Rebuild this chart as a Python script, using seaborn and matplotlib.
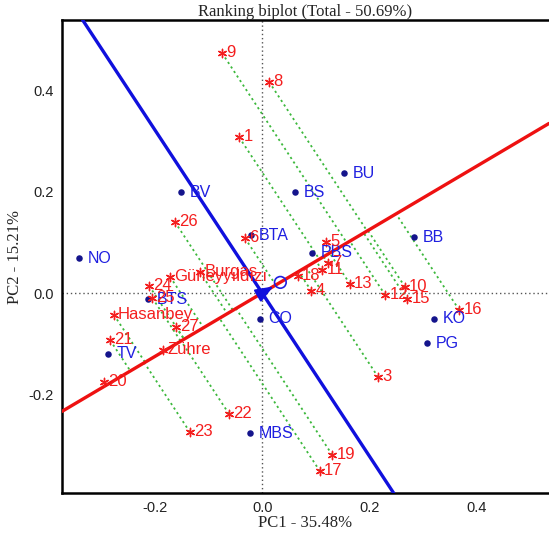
import numpy as np
import pandas as pd
import matplotlib
matplotlib.use("Agg")
import matplotlib.pyplot as plt
import seaborn as sns

# ---- data ----
env_names = ["BU", "BS", "BV", "BTA", "BB", "PBS", "NO", "BTS", "CO", "KO", "PG", "TV", "MBS"]
env_x = [0.153, 0.062, -0.151, -0.021, 0.284, 0.093, -0.342, -0.213, -0.004, 0.321, 0.308, -0.288, -0.022]
env_y = [0.236, 0.199, 0.199, 0.114, 0.110, 0.079, 0.069, -0.012, -0.051, -0.051, -0.099, -0.120, -0.276]

gen_names = ["9", "8", "1", "26", "6", "5", "7", "11", "18", "Güneyyıldızı", "Burgas", "24", "25",
             "Hasanbey", "27", "21", "Zühre", "20", "22", "23", "4", "13", "12", "10", "15", "16",
             "3", "19", "17"]
gen_x = [-0.075, 0.013, -0.043, -0.163, -0.032, 0.120, 0.123, 0.112, 0.067, -0.172, -0.116, -0.211, -0.205,
         -0.277, -0.161, -0.284, -0.185, -0.295, -0.062, -0.135, 0.092, 0.164, 0.230, 0.267, 0.271, 0.368,
         0.217, 0.131, 0.108]
gen_y = [0.473, 0.416, 0.307, 0.140, 0.108, 0.100, 0.059, 0.045, 0.033, 0.032, 0.041, 0.014, -0.010,
         -0.043, -0.067, -0.093, -0.112, -0.175, -0.238, -0.274, 0.004, 0.018, -0.004, 0.012, -0.012, -0.033,
         -0.166, -0.319, -0.351]

aea_slope = 0.6235
avg_env = (0.034, 0.021)

title = "Ranking biplot (Total - 50.69%)"
xlabel = "PC1 - 35.48%"
ylabel = "PC2 - 15.21%"
xticks = [-0.2, 0.0, 0.2, 0.4]
yticks = [-0.2, 0.0, 0.2, 0.4]

# ---- style ----
sns.set_theme(style="white")
plt.rcParams["font.family"] = ["Liberation Sans", "DejaVu Sans"]

RED = "#f41e1e"
BLUE = "#1f1fe0"
NAVY = "#14148c"
GREEN = "#3cb83c"

fig = plt.figure(figsize=(5.49, 5.34), dpi=100)
ax = fig.add_axes([62 / 549, 41 / 534, 487 / 549, 473 / 534])
xlim = (-0.374, 0.536)
ylim = (-0.394, 0.538)
ax.set_xlim(*xlim)
ax.set_ylim(*ylim)

# reference axes
ax.axhline(0, color="#555555", ls=(0, (1, 2)), lw=1.0, zorder=1)
ax.axvline(0, color="#555555", ls=(0, (1, 2)), lw=1.0, zorder=1)

# projection lines onto average environment axis
u = np.array([1.0, aea_slope])
u = u / np.linalg.norm(u)
for gx, gy in zip(gen_x, gen_y):
    t = gx * u[0] + gy * u[1]
    fx, fy = t * u[0], t * u[1]
    ax.plot([gx, fx], [gy, fy], color=GREEN, ls=(0, (1.2, 1.8)), lw=1.3, zorder=2)

# AEA line and perpendicular
ax.axline((0, 0), slope=aea_slope, color="#ee1111", lw=2.4, zorder=3)
ax.axline((0, 0), slope=-1 / aea_slope, color="#1010dd", lw=2.4, zorder=3)

# arrow and average environment circle
ax.annotate("", xy=(avg_env[0] * 0.75, avg_env[1] * 0.75), xytext=(0, 0),
            arrowprops=dict(arrowstyle="-|>,head_length=0.9,head_width=0.35", color="#1010dd", lw=1.5),
            zorder=4)
ax.scatter([avg_env[0]], [avg_env[1]], s=70, facecolors="none", edgecolors=BLUE, linewidths=1.2, zorder=4)

# environments
env_df = pd.DataFrame({"x": env_x, "y": env_y, "name": env_names})
sns.scatterplot(data=env_df, x="x", y="y", ax=ax, color=NAVY, s=22, edgecolor=NAVY, linewidth=0, zorder=5,
                legend=False)
for n, x, y in zip(env_names, env_x, env_y):
    ax.annotate(n, (x, y), xytext=(6, 0), textcoords="offset points", color=BLUE, fontsize=11.5,
                va="center", ha="left", zorder=6)

# genotypes
gen_df = pd.DataFrame({"x": gen_x, "y": gen_y, "name": gen_names})
sns.scatterplot(data=gen_df, x="x", y="y", ax=ax, color=RED, marker=(6, 2, 0), s=36, linewidth=1.0,
                edgecolor=RED, zorder=5, legend=False)
for n, x, y in zip(gen_names, gen_x, gen_y):
    ax.annotate(n, (x, y), xytext=(3, 0.5), textcoords="offset points", color=RED, fontsize=12,
                va="center", ha="left", zorder=6)

# axes cosmetics
ax.set_xticks(xticks)
ax.set_yticks(yticks)
ax.set_xticklabels([f"{v:.1f}" for v in xticks])
ax.set_yticklabels([f"{v:.1f}" for v in yticks])
ax.tick_params(axis="both", length=0, labelsize=10.5, pad=6, colors="#222222")
for s in ["left", "bottom", "top"]:
    ax.spines[s].set_color("black")
    ax.spines[s].set_linewidth(1.8)
ax.spines["right"].set_visible(False)

serif = ["Liberation Serif", "DejaVu Serif"]
ax.set_title(title, family=serif, fontsize=12, pad=3)
ax.set_xlabel(xlabel, family=serif, fontsize=12, labelpad=0)
ax.set_ylabel(ylabel, family=serif, fontsize=12, labelpad=4)

fig.savefig("out.png", dpi=100)
